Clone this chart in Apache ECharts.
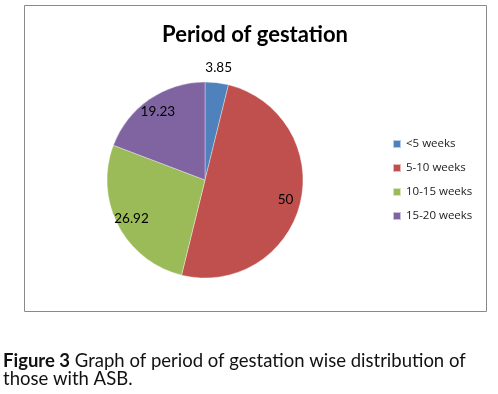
<!DOCTYPE html>
<html>
<head>
<meta charset="utf-8">
<script src="https://cdn.jsdelivr.net/npm/echarts@6/dist/echarts.min.js"></script>
<style>
html,body{margin:0;padding:0;background:#fff;}
#c{width:498px;height:394px;}
</style>
</head>
<body>
<div id="c"></div>
<script>
const categories = ['<5 weeks', '5-10 weeks', '10-15 weeks', '15-20 weeks'];
const values = [3.85, 50, 26.92, 19.23];
const colors = ['#4F81BD', '#C0504D', '#9BBB59', '#8064A2'];
const titleText = 'Period of gestation';
const captionBold = 'Figure 3';
const captionRest = ' Graph of period of gestation wise distribution of';
const captionLine2 = 'those with ASB.';

const FONT = 'Lato, "Open Sans", sans-serif';
const chart = echarts.init(document.getElementById('c'), null, {renderer: 'canvas'});

const baseData = categories.map((c, i) => ({name: c, value: values[i], itemStyle: {color: colors[i]}}));

const labelSeriesCommon = {
  type: 'pie',
  center: [205, 180],
  startAngle: 90,
  silent: true,
  legendHoverLink: false,
  animation: false,
  itemStyle: {color: 'rgba(0,0,0,0)', borderWidth: 0},
  labelLine: {show: false},
  emphasis: {disabled: true},
  tooltip: {show: false}
};

chart.setOption({
  backgroundColor: '#fff',
  animation: false,
  title: {
    text: titleText,
    left: 255, top: 24, textAlign: 'center', padding: 0,
    textStyle: {fontFamily: FONT, fontWeight: 'bold', fontSize: 22, color: '#000'}
  },
  legend: {
    orient: 'vertical',
    left: 387, top: 132,
    itemWidth: 8, itemHeight: 8, itemGap: 10,
    icon: 'rect',
    data: categories,
    textStyle: {fontFamily: '"Open Sans", sans-serif', fontSize: 11.5, color: '#222', lineHeight: 14}
  },
  graphic: [
    {type: 'rect', shape: {x: 24.5, y: 5.5, width: 462, height: 306}, style: {fill: 'none', stroke: '#8a8a8a', lineWidth: 1}, silent: true, z: -1},
    {type: 'text', left: 3, top: 352, style: {
      text: '{b|' + captionBold + '}{n|' + captionRest + '}\n{n|' + captionLine2 + '}',
      rich: {
        b: {fontFamily: FONT, fontWeight: 'bold', fontSize: 18.5, fill: '#111', lineHeight: 18},
        n: {fontFamily: FONT, fontSize: 18.5, fill: '#111', lineHeight: 18}
      }
    }}
  ],
  series: [
    {
      type: 'pie',
      center: [205, 180],
      radius: 98,
      startAngle: 90,
      data: baseData,
      label: {show: false},
      labelLine: {show: false},
      itemStyle: {borderColor: 'rgba(255,255,255,0.6)', borderWidth: 0.6}
    },
    Object.assign({}, labelSeriesCommon, {
      radius: 160,
      data: categories.map((c, i) => ({name: c, value: values[i], label: {show: i !== 0}})),
      label: {show: true, position: 'inside', formatter: p => String(p.value),
        fontFamily: FONT, fontSize: 13.5, color: '#000'}
    }),
    Object.assign({}, labelSeriesCommon, {
      radius: 220,
      data: categories.map((c, i) => ({name: c, value: values[i], label: {show: i === 0}})),
      label: {show: true, position: 'inside', formatter: p => String(p.value),
        fontFamily: FONT, fontSize: 13.5, color: '#000'}
    })
  ]
});
</script>
</body>
</html>
